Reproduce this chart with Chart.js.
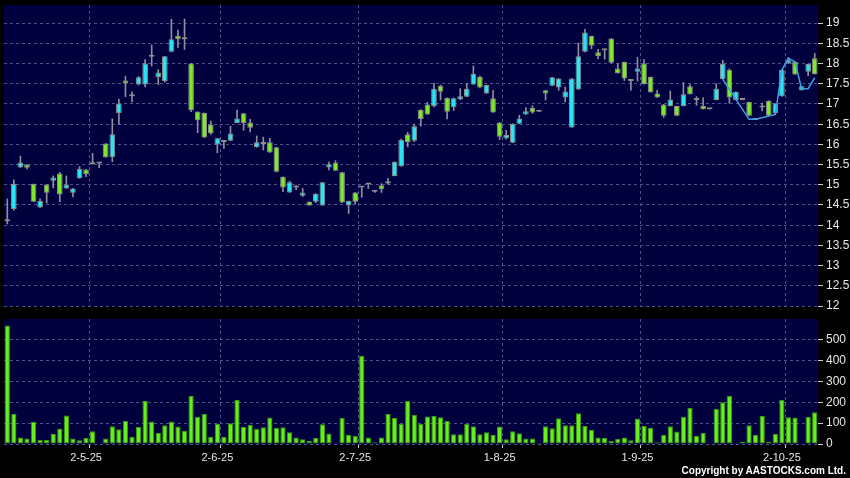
<!DOCTYPE html>
<html>
<head>
<meta charset="utf-8">
<script src="https://cdn.jsdelivr.net/npm/chart.js@4.4.1/dist/chart.umd.min.js"></script>
<style>
html, body { margin:0; padding:0; background:#000; }
#wrap { position:relative; width:850px; height:478px; background:#000; overflow:hidden; }
#boxPrezzo { position:absolute; left:0; top:0; width:850px; height:318px; }
#boxVolume { position:absolute; left:0; top:316px; width:850px; height:162px; }
#copy { position:absolute; right:4px; top:465px; font:bold 10px 'Liberation Sans', Arial, sans-serif; color:#fff; white-space:nowrap; }
</style>
</head>
<body>
<div id="wrap">
  <div id="boxPrezzo"><canvas id="prezzo"></canvas></div>
  <div id="boxVolume"><canvas id="volume"></canvas></div>
  <div id="copy">Copyright by AASTOCKS.com Ltd.</div>
</div>
<script>
// dati (una candela per giorno di borsa)
var opens = [14.10,14.40,15.43,15.50,15.02,14.44,15.01,15.10,15.28,14.91,14.80,15.16,15.38,15.51,15.53,16.02,15.68,16.77,17.58,17.19,
  17.48,17.48,18.17,17.67,17.57,18.29,18.68,18.60,18.00,16.81,16.78,16.49,16.00,16.06,16.09,16.53,16.77,16.54,15.93,16.01,
  16.05,15.93,15.20,14.81,14.93,14.73,14.58,14.58,14.49,15.43,15.55,15.31,14.49,14.81,14.93,15.01,14.83,14.99,15.03,15.22,
  15.46,16.25,16.09,16.85,16.99,16.95,17.45,17.15,16.92,17.11,17.18,17.48,17.67,17.26,17.14,16.54,16.15,16.04,16.51,16.74,
  16.90,16.81,17.34,17.45,17.41,17.16,16.42,17.36,18.29,18.68,18.28,18.33,18.62,17.88,18.04,17.57,17.80,18.00,17.67,17.26,
  16.99,16.95,16.95,16.95,17.44,17.10,16.95,16.87,17.10,17.61,17.85,17.10,17.10,17.05,16.61,16.91,17.08,16.77,17.19,18.00,
  18.04,17.34,17.80,18.13];
var highs = [14.65,15.12,15.71,15.50,15.02,14.65,15.01,15.22,15.31,15.22,14.91,15.45,15.38,15.78,15.54,16.02,16.63,17.12,17.69,17.30,
  17.68,18.10,18.46,17.85,18.18,19.10,18.83,19.10,18.00,16.81,16.78,16.58,16.15,16.10,16.45,16.85,16.77,16.62,16.21,16.18,
  16.15,15.93,15.20,15.09,14.98,14.91,14.58,14.78,15.06,15.56,15.60,15.31,14.60,14.81,14.95,15.01,14.86,15.03,15.16,15.57,
  16.13,16.30,16.50,16.86,17.04,17.51,17.47,17.15,17.15,17.38,17.51,17.94,17.69,17.47,17.34,16.54,16.35,16.51,16.72,16.91,
  16.96,16.81,17.34,17.66,17.63,17.42,17.63,18.51,18.85,18.68,18.35,18.33,18.62,18.00,18.04,17.58,18.15,18.10,17.67,17.34,
  16.99,17.32,16.95,17.53,17.48,17.18,17.16,16.87,17.50,18.08,17.87,17.30,17.10,17.05,16.64,17.02,17.08,17.01,17.84,18.15,
  18.05,17.44,17.99,18.25];
var lows = [14.03,14.37,15.43,15.39,14.58,14.44,14.55,14.92,14.58,14.91,14.70,15.16,15.20,15.51,15.42,15.68,15.57,16.50,17.18,17.05,
  17.47,17.42,17.94,17.48,17.54,18.29,18.40,18.35,16.81,16.29,16.17,16.25,15.79,15.90,16.09,16.53,16.35,16.31,15.93,15.86,
  15.80,15.32,14.83,14.81,14.88,14.71,14.49,14.56,14.49,15.37,15.35,14.56,14.29,14.52,14.69,14.91,14.81,14.81,15.01,15.22,
  15.46,15.94,16.07,16.45,16.74,16.93,17.10,16.63,16.84,17.11,17.18,17.48,17.40,17.26,16.79,16.12,16.13,16.04,16.51,16.74,
  16.77,16.81,17.10,17.45,17.34,17.05,16.42,17.36,18.29,18.37,18.12,18.11,18.02,17.76,17.58,17.34,17.57,17.49,17.29,17.16,
  16.67,16.95,16.71,16.95,17.24,16.97,16.87,16.87,17.10,17.61,17.02,17.10,17.10,16.71,16.61,16.83,16.71,16.77,17.19,18.00,
  17.73,17.34,17.70,17.74];
var closes = [14.15,15.02,15.55,15.42,14.58,14.60,14.80,15.18,14.76,15.01,14.91,15.39,15.26,15.55,15.53,15.68,16.25,17.01,17.51,17.19,
  17.66,18.00,18.17,17.78,18.18,18.60,18.60,18.60,16.85,16.60,16.17,16.27,16.15,16.06,16.27,16.64,16.53,16.41,16.05,16.01,
  15.80,15.32,14.93,15.06,14.93,14.81,14.49,14.78,15.06,15.51,15.35,14.56,14.60,14.58,14.93,15.01,14.83,14.89,15.09,15.57,
  16.11,16.06,16.45,16.63,16.74,17.38,17.30,16.81,17.14,17.19,17.38,17.74,17.41,17.47,16.79,16.19,16.23,16.51,16.64,16.82,
  16.79,16.81,17.26,17.66,17.63,17.31,17.63,18.18,18.77,18.44,18.19,18.33,18.02,17.76,17.63,17.57,17.88,17.49,17.29,17.16,
  16.71,17.11,16.71,17.24,17.24,17.10,16.87,16.87,17.38,17.99,17.16,17.30,17.10,16.71,16.64,16.91,16.71,17.01,17.84,18.08,
  17.73,17.44,17.99,17.74];
var volumes = [569,144,31,27,106,19,21,48,74,137,26,18,29,61,3,26,85,71,110,35,
  82,208,108,53,90,108,84,63,232,131,144,35,98,35,100,211,82,92,73,81,
  127,77,81,56,31,23,15,29,95,50,2,126,45,40,424,31,8,31,145,126,
  97,208,140,97,132,135,129,111,47,47,97,85,47,56,45,84,23,61,52,27,
  27,5,85,76,124,90,90,148,87,69,31,29,15,24,31,18,123,87,77,8,
  44,85,60,131,174,39,53,3,169,200,232,2,11,90,44,135,11,48,213,129,
  127,3,131,152];

// linea azzurra sulle ultime sedute
var lineaAt = [109,113,114,117,118,119,120,121,122,123];
var lineaVal = [17.61,16.62,16.62,16.74,17.84,18.13,18.04,17.38,17.38,17.65];

var tickLabels = ['2-5-25','2-6-25','2-7-25','1-8-25','1-9-25','2-10-25'];
var tickAt = [12,32,53,75,96,118];
var priceTicks = [12,12.5,13,13.5,14,14.5,15,15.5,16,16.5,17,17.5,18,18.5,19];
var volTicks = [0,100,200,300,400,500];

Chart.defaults.font.family = "'Liberation Sans', Arial, sans-serif";
Chart.defaults.color = '#e6e6e6';

var N = closes.length;
var labels = [];
for (let i = 0; i < N; i++) labels.push('');
tickAt.forEach(function(p, k){ labels[p] = tickLabels[k]; });

var corpi = [], stoppini = [], coloriCorpo = [], lineaData = [];
for (let i = 0; i < N; i++) {
  corpi.push([opens[i], closes[i]]);
  stoppini.push([lows[i], highs[i]]);
  if (closes[i] > opens[i]) coloriCorpo.push('#2ae4f2');
  else if (closes[i] < opens[i]) coloriCorpo.push('#7fe82c');
  else coloriCorpo.push('#a4a4a4');
  lineaData.push(null);
}
lineaAt.forEach(function(p, k){ lineaData[p] = lineaVal[k]; });

var GRIGLIA = '#50508c';

function coloreGriglia(ctx){
  var i = ctx.index;
  if (i > 0 && labels[i - 1]) return GRIGLIA;
  return 'rgba(0,0,0,0)';
}
function coloreTacca(ctx){
  var i = ctx.index;
  if (i > 0 && labels[i - 1]) return '#cfcfcf';
  return 'rgba(0,0,0,0)';
}

var sfondo = {
  id: 'sfondo',
  beforeDraw: function(chart){
    var a = chart.chartArea, c = chart.ctx;
    c.save();
    c.fillStyle = '#00003f';
    c.fillRect(a.left, a.top, a.right - a.left, a.bottom - a.top);
    c.restore();
  }
};

new Chart(document.getElementById('prezzo'), {
  type: 'bar',
  data: {
    labels: labels,
    datasets: [
      { type: 'line', data: lineaData, borderColor: '#3f9fe6', borderWidth: 1.5, pointRadius: 0, spanGaps: true, tension: 0, order: 0 },
      { data: corpi, backgroundColor: coloriCorpo, borderColor: '#8c8c8c', borderWidth: 1, borderSkipped: false,
        minBarLength: 2, grouped: false, barPercentage: 0.86, categoryPercentage: 1, order: 1 },
      { data: stoppini, backgroundColor: '#8e8e9c', barThickness: 1, grouped: false, order: 2 }
    ]
  },
  options: {
    responsive: true, maintainAspectRatio: false, animation: false,
    layout: { padding: { left: 4, top: 5, right: 0, bottom: 0 } },
    plugins: { legend: { display: false }, tooltip: { enabled: false } },
    scales: {
      x: {
        offset: true,
        grid: { offset: true, color: coloreGriglia, drawTicks: false },
        border: { display: false, dash: [3, 3] },
        ticks: { display: false, autoSkip: false },
        afterFit: function(s){ s.height = 12; s.paddingLeft = 0; s.paddingRight = 0; }
      },
      y: {
        position: 'right', min: 12, max: 19.45,
        afterBuildTicks: function(s){ s.ticks = priceTicks.map(function(v){ return { value: v }; }); },
        ticks: { color: '#e6e6e6', font: { size: 12 }, padding: 3, callback: function(v){ return String(v); } },
        grid: { color: GRIGLIA, tickColor: '#cfcfcf', tickLength: 5 },
        border: { display: false, dash: [3, 3] },
        afterFit: function(s){ s.width = 32; s.paddingTop = 0; s.paddingBottom = 0; }
      }
    }
  },
  plugins: [sfondo]
});

new Chart(document.getElementById('volume'), {
  type: 'bar',
  data: {
    labels: labels,
    datasets: [
      { data: volumes, backgroundColor: '#66f01a', borderColor: '#3a9a10', borderWidth: 1, borderSkipped: false,
        barPercentage: 0.8, categoryPercentage: 1 }
    ]
  },
  options: {
    responsive: true, maintainAspectRatio: false, animation: false,
    layout: { padding: { left: 4, top: 3, right: 0, bottom: 0 } },
    plugins: { legend: { display: false }, tooltip: { enabled: false } },
    scales: {
      x: {
        offset: true,
        grid: { offset: true, color: coloreGriglia, tickColor: coloreTacca, tickLength: 4 },
        border: { display: false, dash: [3, 3] },
        ticks: { autoSkip: false, maxRotation: 0, color: '#e6e6e6', font: { size: 11 }, padding: 3 },
        afterFit: function(s){ s.height = 34; s.paddingLeft = 0; s.paddingRight = 0; }
      },
      y: {
        position: 'right', min: 0, max: 600,
        afterBuildTicks: function(s){ s.ticks = volTicks.map(function(v){ return { value: v }; }); },
        ticks: { color: '#e6e6e6', font: { size: 12 }, padding: 3, callback: function(v){ return String(v); } },
        grid: { color: GRIGLIA, tickColor: '#cfcfcf', tickLength: 5 },
        border: { display: false, dash: [3, 3] },
        afterFit: function(s){ s.width = 32; s.paddingTop = 0; s.paddingBottom = 0; }
      }
    }
  },
  plugins: [sfondo]
});
</script>
</body>
</html>
